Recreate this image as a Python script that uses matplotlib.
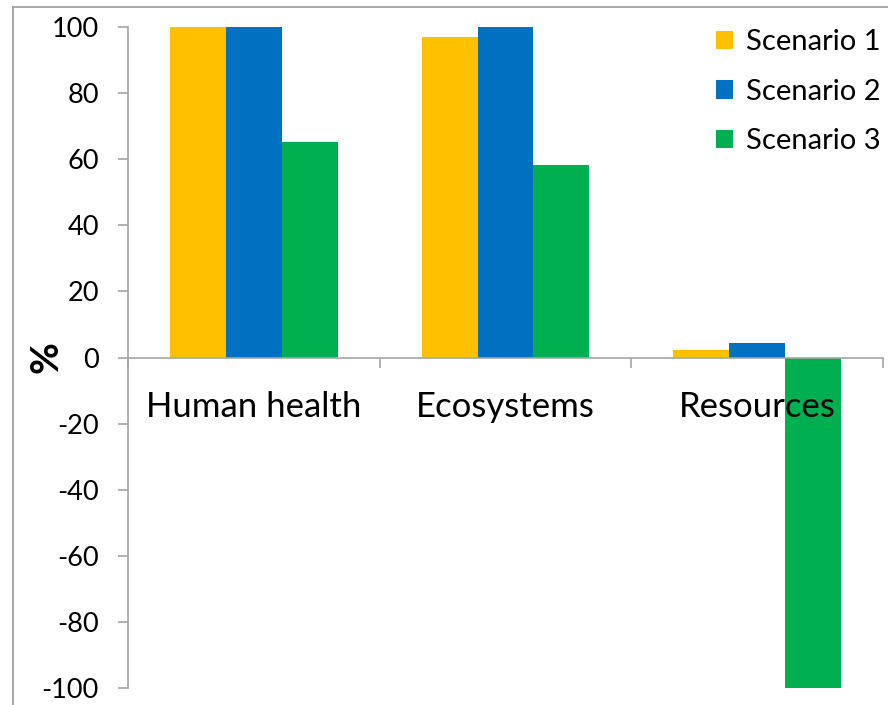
import matplotlib
matplotlib.use("Agg")
import matplotlib.pyplot as plt
from matplotlib.lines import Line2D
import numpy as np

categories = ["Human health", "Ecosystems", "Resources"]
series_names = ["Scenario 1", "Scenario 2", "Scenario 3"]
scenario1 = [100, 97, 2.4]
scenario2 = [100, 100, 4.5]
scenario3 = [65.3, 58.3, -100]
colors = ["#FFC000", "#0070C0", "#00B050"]
yticks = [-100, -80, -60, -40, -20, 0, 20, 40, 60, 80, 100]

plt.rcParams['font.family'] = ['Lato', 'DejaVu Sans']

fig = plt.figure(figsize=(8.88, 7.05), dpi=100)
ax = fig.add_axes([128/888, 1-688/705, (883-128)/888, (688-27)/705])

x = np.arange(len(categories))
w = 0.2225
for i, (vals, c, name) in enumerate(zip([scenario1, scenario2, scenario3], colors, series_names)):
    ax.bar(x + (i-1)*w, vals, width=w, color=c, label=name, zorder=1)

ax.set_xlim(-0.5, 2.5)
ax.set_ylim(-100, 100)
ax.set_yticks(yticks)
ax.set_yticklabels([str(t) for t in yticks], fontsize=19.5)
grey = "#A6A6A6"
for s in ["top", "right"]:
    ax.spines[s].set_visible(False)
ax.spines["left"].set_color(grey)
ax.spines["left"].set_linewidth(1.2)
ax.spines["bottom"].set_position(("data", 0))
ax.spines["bottom"].set_color(grey)
ax.spines["bottom"].set_linewidth(1.2)
ax.set_xticks([-0.5, 0.5, 1.5, 2.5])
ax.set_xticklabels([])
ax.tick_params(axis="x", direction="out", length=7, color=grey, width=1.2)
ax.tick_params(axis="y", direction="out", length=7, color=grey, width=1.2, pad=14)

for xi, cat in zip(x, categories):
    ax.text(xi, -15, cat, ha="center", va="center", fontsize=25, zorder=5)

ax.set_ylabel("%", fontsize=28, fontweight="bold")
ax.yaxis.set_label_coords(-0.086, 0.5)

leg = ax.legend(loc="upper right", bbox_to_anchor=(1.032, 1.036), frameon=False,
                fontsize=21, handlelength=0.6, handleheight=0.6,
                handletextpad=0.45, labelspacing=0.8)

# outer chart frame (top and left edges)
fig.add_artist(Line2D([13/888, 1], [1-7/705, 1-7/705], transform=fig.transFigure, color="#999999", lw=1.2))
fig.add_artist(Line2D([13/888, 13/888], [0, 1-7/705], transform=fig.transFigure, color="#999999", lw=1.2))

fig.savefig("out.png", dpi=100)
